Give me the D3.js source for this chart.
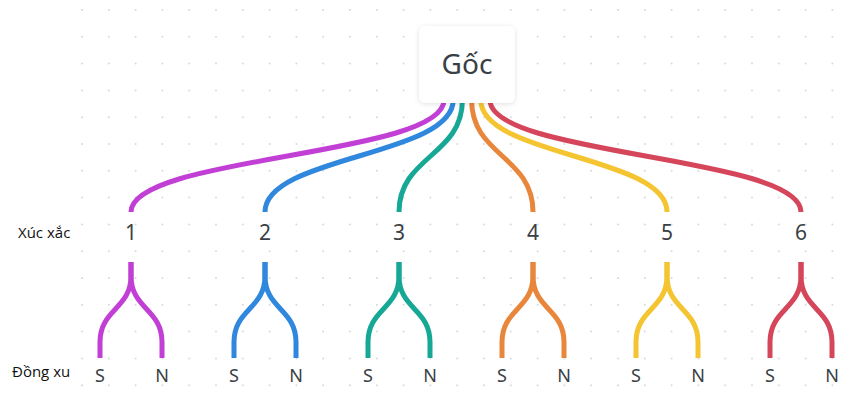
<!DOCTYPE html>
<html><head><meta charset="utf-8">
<script src="https://cdn.jsdelivr.net/npm/d3@7.9.0/dist/d3.min.js"></script>
<style>body{margin:0;background:#fff}</style>
</head><body>
<svg id="chart" width="856" height="401"></svg>
<script>
const rootLabel = "Gốc";
const dice = ["1", "2", "3", "4", "5", "6"];
const coins = ["S", "N"];
const colors = ["#c23fd6", "#2f88dd", "#16a895", "#e8873b", "#f4c431", "#d5465a"];
const rowLabels = ["Xúc xắc", "Đồng xu"];

const svg = d3.select("#chart");
const defs = svg.append("defs");
const f = defs.append("filter").attr("id", "sh").attr("x", "-30%").attr("y", "-30%").attr("width", "160%").attr("height", "160%");
f.append("feDropShadow").attr("dx", 0).attr("dy", 1).attr("stdDeviation", 2.5).attr("flood-color", "#000").attr("flood-opacity", 0.12);

// dot grid
const gx = d3.range(82, 850, 26.8), gy = d3.range(10, 400, 26.8);
const grid = svg.append("g").attr("fill", "#d6d9dd");
gx.forEach(x => gy.forEach(y => grid.append("circle").attr("cx", x).attr("cy", y).attr("r", 1)));

const x = d3.scalePoint().domain(dice).range([131, 801]);
const startX = d3.scalePoint().domain(dice).range([444, 490]);
const link = d3.linkVertical().x(d => d[0]).y(d => d[1]);

const g = svg.append("g").attr("fill", "none").attr("stroke-width", 5).attr("stroke-linecap", "butt");
dice.forEach((d, i) => {
  g.append("path").attr("stroke", colors[i])
    .attr("d", link({ source: [startX(d), 100], target: [x(d), 212] }));
  coins.forEach((c, j) => {
    const lx = x(d) + (j ? 31 : -31);
    g.append("path").attr("stroke", colors[i])
      .attr("d", `M${x(d)},262V276` + link({ source: [x(d), 276], target: [lx, 342] }).slice(1).replace(/^[\d.,-]+/, m => "L" + m) + `V358`);
  });
});

// root box
svg.append("rect").attr("x", 419).attr("y", 26).attr("width", 96).attr("height", 77).attr("rx", 6)
  .attr("fill", "#fff").attr("filter", "url(#sh)");
svg.append("text").attr("x", 467).attr("y", 74).attr("text-anchor", "middle")
  .attr("font-family", "Noto Sans").attr("font-size", 28).attr("fill", "#3a3f45").text(rootLabel);

const lab = svg.append("g").attr("font-family", "Noto Sans").attr("fill", "#3a3f45").attr("text-anchor", "middle");
dice.forEach(d => {
  lab.append("text").attr("x", x(d)).attr("y", 240).attr("font-size", 21).text(d);
  coins.forEach((c, j) => lab.append("text").attr("x", x(d) + (j ? 31 : -31)).attr("y", 382).attr("font-size", 18).text(c));
});
svg.append("text").attr("x", 18).attr("y", 238).attr("font-family", "Open Sans").attr("font-size", 15).attr("fill", "#111").text(rowLabels[0]);
svg.append("text").attr("x", 12).attr("y", 377).attr("font-family", "Open Sans").attr("font-size", 15).attr("fill", "#111").text(rowLabels[1]);
</script>
</body></html>
